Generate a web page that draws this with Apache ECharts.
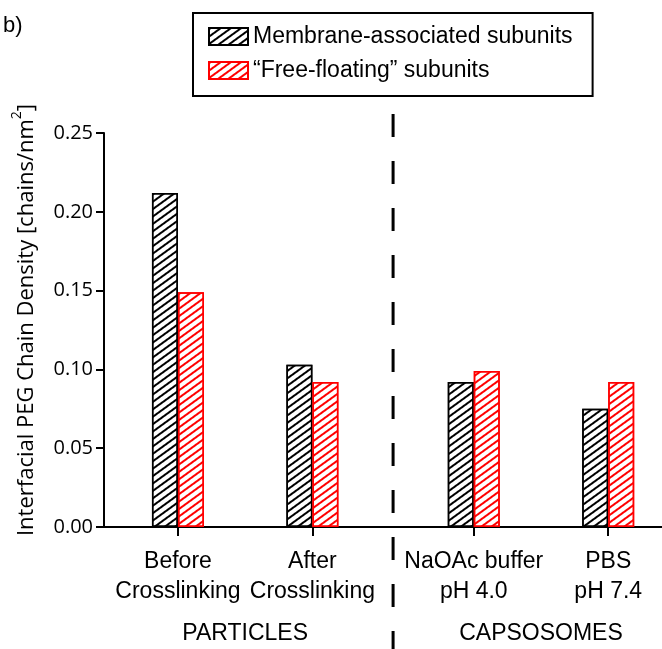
<!DOCTYPE html>
<html>
<head>
<meta charset="utf-8">
<script src="https://cdn.jsdelivr.net/npm/echarts@6/dist/echarts.min.js"></script>
<style>
html,body{margin:0;padding:0;background:#fff;}
#c{width:662px;height:649px;}
</style>
</head>
<body>
<div id="c"></div>
<script>
// ---- data ----
var xPositions = [1, 2, 3.2, 4.2];
var categories = ['Before\nCrosslinking', 'After\nCrosslinking', 'NaOAc buffer\npH 4.0', 'PBS\npH 7.4'];
var membraneValues = [0.212, 0.103, 0.092, 0.075];
var freeValues = [0.149, 0.092, 0.099, 0.092];
var seriesNames = ['Membrane-associated subunits', '\u201cFree-floating\u201d subunits'];
var groupLabels = ['PARTICLES', 'CAPSOSOMES'];
var groupPositions = [1.5, 3.7];
var dividerPosition = 2.6;

var chart = echarts.init(document.getElementById('c'), null, {renderer: 'canvas'});

function pairs(vals) { return vals.map(function (v, i) { return [xPositions[i], v]; }); }

function hatch(color) {
  return {
    symbol: 'rect', symbolSize: 1, color: color,
    dashArrayX: [1, 0], dashArrayY: [1.1, 3.9],
    rotation: -Math.PI / 5
  };
}

var option = {
  animation: false,
  backgroundColor: '#fff',
  grid: {left: 104, right: 0, top: 133, bottom: 122, containLabel: false},
  legend: {
    orient: 'vertical', left: 193, top: 13,
    padding: [12, 20, 14, 15], itemGap: 11,
    itemWidth: 39, itemHeight: 17,
    borderColor: '#000', borderWidth: 2,
    icon: 'rect',
    textStyle: {fontFamily: 'Liberation Sans', fontSize: 23, color: '#000'},
    data: seriesNames
  },
  xAxis: {
    type: 'value', min: 0.45, max: 4.6,
    splitLine: {show: false},
    axisLine: {show: true, onZero: false, lineStyle: {color: '#000', width: 2}},
    axisTick: {show: true, customValues: xPositions, length: 9, lineStyle: {color: '#000', width: 2}},
    axisLabel: {
      customValues: xPositions, margin: 20,
      fontFamily: 'Liberation Sans', fontSize: 23, color: '#000', lineHeight: 30,
      formatter: function (v) {
        for (var i = 0; i < xPositions.length; i++) if (Math.abs(xPositions[i] - v) < 1e-6) return categories[i];
        return '';
      }
    }
  },
  yAxis: {
    type: 'value', min: 0, max: 0.25, interval: 0.05,
    splitLine: {show: false},
    axisLine: {show: true, lineStyle: {color: '#000', width: 2}},
    axisTick: {show: true, length: 8, lineStyle: {color: '#000', width: 2}},
    axisLabel: {
      margin: 11, fontFamily: 'Open Sans', fontSize: 20, color: '#000',
      formatter: function (v) { return v.toFixed(2); }
    }
  },
  series: [
    {
      name: seriesNames[0], type: 'bar', barWidth: 26, barGap: '0%',
      itemStyle: {color: '#fff', borderColor: '#000', borderWidth: 1.5, decal: hatch('#000')},
      data: pairs(membraneValues)
    },
    {
      name: seriesNames[1], type: 'bar', barWidth: 26, barGap: '0%',
      itemStyle: {color: '#fff', borderColor: '#ff0000', borderWidth: 1.5, decal: hatch('#ff0000')},
      data: pairs(freeValues)
    }
  ]
};
chart.setOption(option);

var dx = chart.convertToPixel({xAxisIndex: 0}, dividerPosition);
var graphics = [
  {type: 'line', shape: {x1: dx, y1: 114, x2: dx, y2: 649},
   style: {stroke: '#000', lineWidth: 3, lineDash: [23, 24]}},
  {type: 'text', left: 3, top: 15,
   style: {text: 'b)', fontFamily: 'Liberation Sans', fontSize: 22, fill: '#000'}},
  {type: 'text', x: 24, y: 320, rotation: Math.PI / 2,
   style: {
     text: '{a|Interfacial PEG Chain Density [chains/nm}{s|2}{a|]}',
     align: 'center', verticalAlign: 'middle',
     rich: {
       a: {fontFamily: 'Open Sans', fontSize: 22, fill: '#000', lineHeight: 28, verticalAlign: 'bottom'},
       s: {fontFamily: 'Open Sans', fontSize: 14, fill: '#000', lineHeight: 28, verticalAlign: 'top', padding: [0, 0, 10, 0]}
     }
   }}
];
groupLabels.forEach(function (g, i) {
  var gx = chart.convertToPixel({xAxisIndex: 0}, groupPositions[i]);
  graphics.push({type: 'text', x: gx, y: 634,
    style: {text: g, fontFamily: 'Liberation Sans', fontSize: 23, fill: '#000', align: 'center', verticalAlign: 'middle'}});
});
chart.setOption({graphic: graphics});
</script>
</body>
</html>
